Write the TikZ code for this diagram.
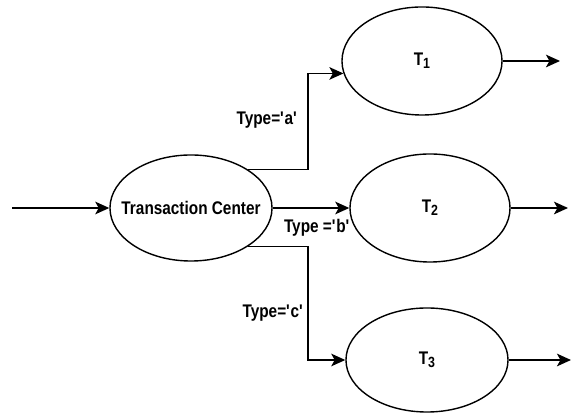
\documentclass[tikz,border=0pt]{standalone}
\usepackage{fontspec}
\setmainfont[FakeStretch=0.84]{Liberation Sans}
\usepackage{tikz}
\usetikzlibrary{arrows.meta,positioning,calc,shapes.geometric}
\newcommand{\tsub}[1]{T\raisebox{-0.35ex}{\fontsize{10.5}{12}\selectfont #1}}

\begin{document}
\begin{tikzpicture}[x=0.025cm, y=0.025cm, >={Stealth[length=10pt,width=9pt,inset=2.5pt]},
    font=\fontsize{13}{15}\selectfont\bfseries,
    trans/.style={draw, ellipse, line width=1pt, inner sep=0pt, minimum width=4cm, minimum height=2.7cm},
    flow/.style={->, line width=1pt}]
  \useasboundingbox (0,0) rectangle (571,413);
  % centre and the three transactions
  \node[trans, minimum width=4.05cm, minimum height=2.65cm, label=center:{Transaction Center}] (tc) at (191,205) {};
  \node[trans, label=center:{\tsub{1}}] (t1) at (422,352) {};
  \node[trans, label=center:{\tsub{2}}] (t2) at (430,205) {};
  \node[trans, minimum width=4.05cm, minimum height=2.6cm, label=center:{\tsub{3}}] (t3) at (427,53) {};
  % free ends and the branch column
  \coordinate (src) at (12,205);
  \coordinate (ja) at (308,0);
  \coordinate (o1) at (560,352);
  \coordinate (o2) at (568,205);
  \coordinate (o3) at (571,53);
  \draw[flow] (src) -- (tc.west);
  \draw[flow] (tc.34) -- (tc.34 -| ja) |- (t1.189);
  \draw[flow] (tc.east) -- (t2.west);
  \draw[flow] (tc.-34) -- (tc.-34 -| ja) |- (t3.west);
  \draw[flow] (t1.east) -- (o1);
  \draw[flow] (t2.east) -- (o2);
  \draw[flow] (t3.east) -- (o3);
  % branch labels
  \node (la) at (267,293) {Type=\textquotesingle a\textquotesingle};
  \node (lb) at (317,185) {Type =\textquotesingle b\textquotesingle};
  \node (lc) at (273,100) {Type=\textquotesingle c\textquotesingle};
\end{tikzpicture}
\end{document}
